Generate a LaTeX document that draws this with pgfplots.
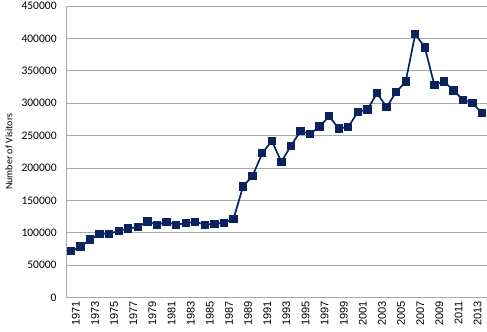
\documentclass[border=0pt]{standalone}
\usepackage{pgfplots}
\pgfplotsset{compat=1.18}
\usepackage{fontspec}
\setmainfont{Carlito}
\newfontfamily\xfont{Liberation Sans}
\definecolor{navy}{RGB}{10,35,95}
\definecolor{gridc}{RGB}{170,170,170}
\begin{document}
\begin{tikzpicture}
\begin{axis}[
  scale only axis,
  width=420pt, height=291pt,
  xmin=1970.5, xmax=2014.5,
  ymin=0, ymax=450000,
  ytick={0,50000,100000,150000,200000,250000,300000,350000,400000,450000},
  xtick={1971,1973,...,2013},
  xticklabel={\pgfmathtruncatemacro\tk{\tick}\tk},
  yticklabel={\pgfmathtruncatemacro\tk{\tick}\tk},
  scaled y ticks=false,
  axis x line*=bottom, axis y line*=left,
  axis line style={gridc, line width=1pt},
  x axis line style={-}, y axis line style={-},
  ymajorgrids, grid style={gridc, line width=0.8pt},
  major tick length=0pt,
  yticklabel style={font=\fontsize{11.5}{12}\selectfont, xshift=-6pt},
  xticklabel style={font=\xfont\fontsize{11}{12}\selectfont, rotate=90, anchor=east, yshift=-5pt},
  ylabel={Number of Visitors},
  ylabel style={font=\fontsize{10.5}{12}\selectfont},
  every axis y label/.style={at={(current axis.west)}, xshift=-57pt, rotate=90, anchor=center},
]
\addplot[navy, line width=1.7pt, mark=square*, mark size=3.3pt, mark options={fill=navy, draw=navy}] coordinates {
(1971,71500) (1972,78800) (1973,89600) (1974,98400) (1975,98400)
(1976,103100) (1977,106700) (1978,108800) (1979,117600) (1980,112400)
(1981,116600) (1982,112400) (1983,115000) (1984,117100) (1985,112400)
(1986,114000) (1987,115500) (1988,121800) (1989,171500) (1990,188100)
(1991,222700) (1992,241800) (1993,209800) (1994,234000) (1995,257200)
(1996,252600) (1997,263900) (1998,279900) (1999,260800) (2000,263400)
(2001,286600) (2002,290200) (2003,315500) (2004,294300) (2005,317000)
(2006,333500) (2007,406700) (2008,386100) (2009,327800) (2010,333500)
(2011,319600) (2012,305200) (2013,300000) (2014,284500)
};
\end{axis}
\pgfresetboundingbox
\path ([xshift=-66pt,yshift=-34pt]current axis.south west) rectangle ([yshift=6pt]current axis.north east);
\end{tikzpicture}
\end{document}
